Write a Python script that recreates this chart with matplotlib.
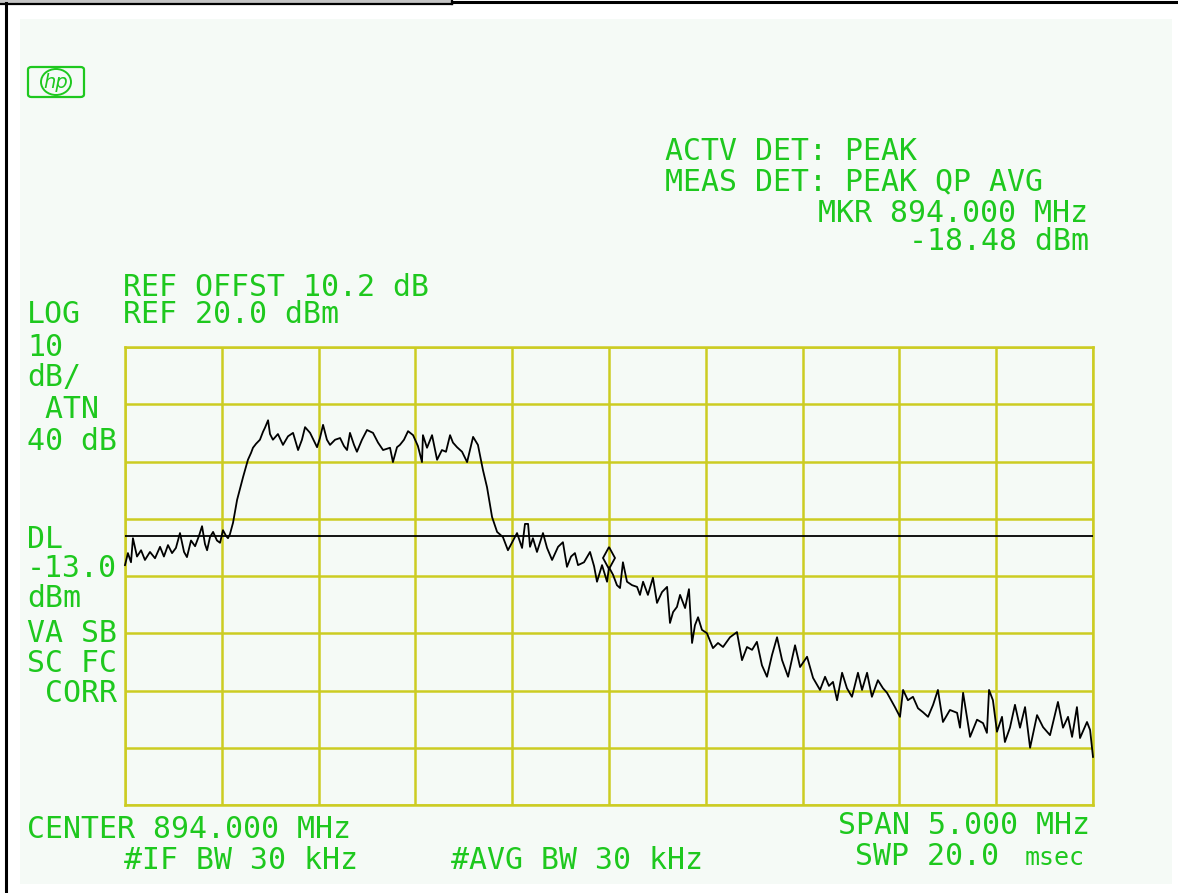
import matplotlib
matplotlib.use("Agg")
import matplotlib.pyplot as plt
from matplotlib.patches import Rectangle, FancyBboxPatch, Ellipse
from matplotlib.lines import Line2D
import matplotlib.transforms as mtransforms

# ---------------- data ----------------
center_mhz = 894.0
span_mhz = 5.0
ref_level_dbm = 20.0
db_per_div = 10.0
n_ydiv = 8
n_xdiv = 10
display_line_dbm = -13.0
marker_mhz = 894.0
marker_dbm = -18.48

trace_mhz = [
    891.500, 891.515, 891.531, 891.541, 891.562, 891.583, 891.603, 891.629, 891.655, 891.681,
    891.701, 891.722, 891.743, 891.763, 891.784, 891.805, 891.820, 891.841, 891.862, 891.882,
    891.898, 891.913, 891.924, 891.939, 891.955, 891.975, 891.991, 892.006, 892.022, 892.032,
    892.042, 892.058, 892.079, 892.110, 892.135, 892.151, 892.161, 892.177, 892.197, 892.213,
    892.223, 892.239, 892.249, 892.264, 892.290, 892.316, 892.342, 892.368, 892.394, 892.414,
    892.430, 892.456, 892.492, 892.507, 892.523, 892.543, 892.559, 892.585, 892.611, 892.631,
    892.647, 892.662, 892.683, 892.698, 892.724, 892.750, 892.781, 892.807, 892.833, 892.869,
    892.884, 892.905, 892.920, 892.941, 892.962, 892.988, 893.013, 893.034, 893.039, 893.060,
    893.086, 893.112, 893.137, 893.158, 893.179, 893.194, 893.215, 893.241, 893.267, 893.282,
    893.298, 893.323, 893.349, 893.370, 893.396, 893.422, 893.452, 893.478, 893.525, 893.551,
    893.566, 893.582, 893.592, 893.607, 893.628, 893.659, 893.680, 893.706, 893.737, 893.762,
    893.783, 893.804, 893.824, 893.840, 893.871, 893.902, 893.923, 893.938, 893.964, 893.990,
    894.000, 894.021, 894.041, 894.057, 894.072, 894.093, 894.119, 894.145, 894.160, 894.176,
    894.201, 894.227, 894.248, 894.274, 894.300, 894.315, 894.331, 894.351, 894.367, 894.393,
    894.413, 894.429, 894.444, 894.460, 894.480, 894.506, 894.537, 894.563, 894.589, 894.625,
    894.661, 894.687, 894.713, 894.739, 894.764, 894.790, 894.816, 894.842, 894.868, 894.894,
    894.925, 894.961, 894.987, 895.023, 895.054, 895.090, 895.116, 895.136, 895.157, 895.178,
    895.204, 895.229, 895.255, 895.286, 895.307, 895.333, 895.358, 895.389, 895.415, 895.436,
    895.457, 895.477, 895.503, 895.519, 895.544, 895.570, 895.596, 895.622, 895.648, 895.674,
    895.699, 895.725, 895.761, 895.798, 895.813, 895.829, 895.865, 895.901, 895.932, 895.952,
    895.963, 895.983, 896.004, 896.030, 896.045, 896.071, 896.097, 896.123, 896.149, 896.175,
    896.211, 896.242, 896.278, 896.319, 896.345, 896.371, 896.392, 896.417, 896.433, 896.469,
    896.485, 896.500,
]

trace_dbm = [
    -18.1, -16.0, -17.6, -13.4, -16.6, -15.5, -17.2, -15.8, -16.9, -14.9,
    -16.6, -14.6, -16.0, -15.1, -12.5, -15.8, -16.7, -13.8, -14.8, -13.0,
    -11.3, -14.4, -15.5, -13.2, -12.3, -13.8, -14.2, -12.0, -13.0, -13.4,
    -12.7, -10.7, -6.7, -2.7, 0.3, 1.5, 2.4, 3.1, 3.8, 5.2,
    5.9, 7.2, 4.8, 3.8, 4.8, 2.9, 4.4, 5.0, 2.0, 3.8,
    6.0, 5.0, 2.5, 4.1, 6.4, 3.8, 2.9, 3.8, 4.1, 2.7,
    2.0, 5.0, 2.9, 1.7, 3.8, 5.5, 5.0, 3.3, 2.0, 2.4,
    -0.1, 2.5, 2.9, 3.8, 5.3, 4.6, 2.7, -0.1, 4.6, 2.4,
    4.6, 0.3, 2.0, 1.7, 4.6, 3.3, 2.5, 1.7, -0.1, 2.0,
    4.3, 2.9, -1.5, -4.5, -9.7, -12.3, -13.2, -15.5, -12.5, -15.1,
    -10.9, -10.9, -14.9, -13.4, -15.8, -12.5, -15.1, -17.2, -14.9, -14.1,
    -18.4, -16.6, -16.0, -18.1, -17.6, -15.8, -18.3, -21.0, -18.1, -21.0,
    -18.48, -19.8, -21.6, -22.1, -17.6, -21.0, -21.6, -21.9, -23.3, -21.0,
    -23.3, -20.3, -24.7, -22.8, -21.9, -28.2, -26.3, -25.4, -23.3, -25.6,
    -22.3, -31.7, -28.6, -27.2, -29.4, -30.0, -32.6, -31.7, -32.4, -30.7,
    -29.8, -34.7, -32.4, -32.9, -31.5, -35.6, -37.6, -33.8, -30.7, -34.7,
    -37.6, -32.1, -35.9, -34.1, -37.8, -39.9, -37.6, -39.2, -38.5, -41.7,
    -36.9, -39.6, -41.1, -36.9, -39.9, -36.9, -41.1, -38.2, -39.6, -40.4,
    -41.7, -42.9, -44.6, -39.9, -41.7, -41.1, -43.1, -43.8, -44.6, -42.5,
    -39.9, -45.5, -43.4, -43.9, -46.5, -40.4, -48.1, -45.1, -45.7, -47.4,
    -39.9, -41.7, -47.2, -44.6, -49.0, -46.5, -42.5, -46.5, -42.9, -50.0,
    -44.3, -46.4, -47.8, -42.0, -46.5, -44.6, -48.1, -42.9, -48.3, -45.5,
    -46.9, -51.6,
]

left_labels = [("LOG", 323), ("10", 356), ("dB/", 386), (" ATN", 418), ("40 dB", 450),
               ("DL", 548), ("-13.0", 577), ("dBm", 607), ("VA SB", 642), ("SC FC", 672),
               (" CORR", 702)]

# ---------------- style ----------------
W, H = 1178, 893
GREEN = "#1ec81e"
GRID = "#cccc22"
PANEL = "#f5faf6"
FONT = "DejaVu Sans Mono"
FS = 21.5

fig = plt.figure(figsize=(W / 100, H / 100), dpi=100)
fig.patch.set_facecolor("white")


def fx(px):
    return px / W


def fy(py):
    return 1 - py / H


# panel background
fig.patches.append(Rectangle((fx(20), fy(884)), fx(1152), (865) / H,
                             transform=fig.transFigure, facecolor=PANEL, edgecolor="none", zorder=-5))
# outer frame pieces
fig.patches.append(Rectangle((0, fy(2.5)), fx(452), 2.5 / H, transform=fig.transFigure,
                             facecolor="#c4c4c4", edgecolor="none", zorder=1))
fig.lines.append(Line2D([0, fx(452)], [fy(3.5), fy(3.5)], transform=fig.transFigure, color="black", lw=1.6))
fig.lines.append(Line2D([fx(452), fx(452)], [1, fy(4)], transform=fig.transFigure, color="black", lw=1.6))
fig.lines.append(Line2D([fx(452), 1], [fy(2.2), fy(2.2)], transform=fig.transFigure, color="black", lw=2.2))
fig.lines.append(Line2D([fx(6), fx(6)], [fy(3), 0], transform=fig.transFigure, color="black", lw=2.2))

# graticule axes
x0, x1, y0, y1 = 125, 1093, 347, 805
ax = fig.add_axes([fx(x0), fy(y1), (x1 - x0) / W, (y1 - y0) / H])
ax.set_zorder(2)
ax.set_facecolor(PANEL)
fmin, fmax = center_mhz - span_mhz / 2, center_mhz + span_mhz / 2
bottom_dbm = ref_level_dbm - n_ydiv * db_per_div
ax.set_xlim(fmin, fmax)
ax.set_ylim(bottom_dbm, ref_level_dbm)
ax.set_xticks([fmin + i * span_mhz / n_xdiv for i in range(n_xdiv + 1)])
ax.set_yticks([bottom_dbm + i * db_per_div for i in range(n_ydiv + 1)])
ax.grid(True, color=GRID, lw=1.8)
ax.tick_params(length=0, labelbottom=False, labelleft=False)
for s in ax.spines.values():
    s.set_color(GRID)
    s.set_linewidth(1.8)
ax.set_axisbelow(True)

ax.axhline(display_line_dbm, color="black", lw=1.3, zorder=3)
ax.plot(trace_mhz, trace_dbm, color="black", lw=1.3, zorder=4, clip_on=False)
off = mtransforms.offset_copy(ax.transData, fig=fig, x=0, y=9, units="dots")
ax.plot([marker_mhz], [marker_dbm], marker="d", ms=11, mfc="none", mec="black",
        mew=1.3, transform=off, zorder=5)

# text
def t(px, py, s, **kw):
    fig.text(fx(px), fy(py), s, color=GREEN, fontsize=kw.pop("fs", FS), family=FONT,
             ha=kw.pop("ha", "left"), va="baseline", **kw)

for s, py in left_labels:
    t(27, py, s)
t(123, 296, "REF OFFST 10.2 dB")
t(123, 323, "REF 20.0 dBm")
t(665, 160, "ACTV DET: PEAK")
t(665, 190, "MEAS DET: PEAK QP AVG")
t(818, 222, "MKR 894.000 MHz")
t(909, 250, "-18.48 dBm")
t(27, 838, "CENTER 894.000 MHz")
t(124, 869, "#IF BW 30 kHz")
t(451, 869, "#AVG BW 30 kHz")
t(838, 834, "SPAN 5.000 MHz")
t(855, 865, "SWP 20.0")
t(1025, 865, "msec", fs=18)

# hp logo
fig.patches.append(FancyBboxPatch((fx(28), fy(97)), fx(56), 30 / H, boxstyle="round,pad=0,rounding_size=0.003",
                                  transform=fig.transFigure, facecolor="none", edgecolor=GREEN, lw=1.6))
fig.patches.append(Ellipse((fx(56), fy(82)), fx(30), 26 / H, transform=fig.transFigure,
                           facecolor=PANEL, edgecolor=GREEN, lw=1.4))
fig.text(fx(56), fy(82), "hp", color=GREEN, fontsize=14, style="italic", family="DejaVu Sans",
         ha="center", va="center")

fig.savefig("out.png", dpi=100)
